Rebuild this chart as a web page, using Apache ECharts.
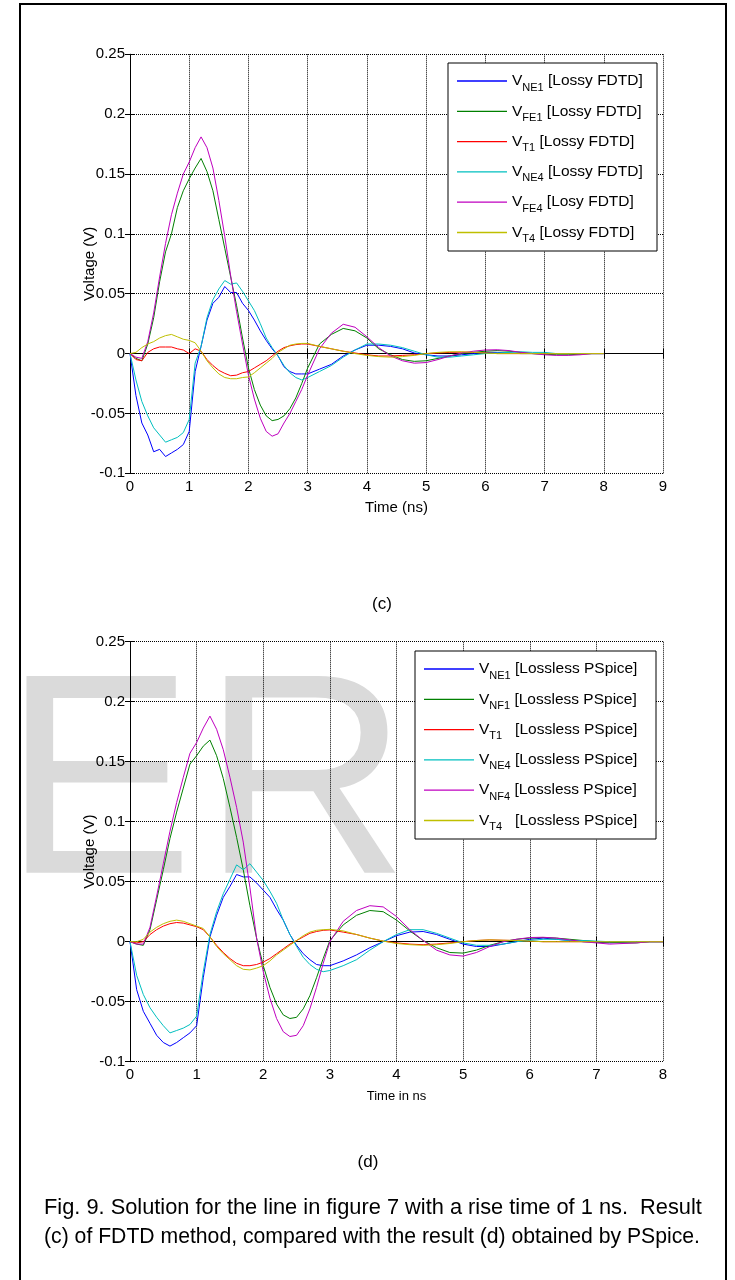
<!DOCTYPE html>
<html lang="en">
<head>
  <meta charset="UTF-8">
  <title>Fig. 9</title>
  <script src="https://cdn.jsdelivr.net/npm/echarts@6/dist/echarts.min.js"></script>
  <style>
    body{
      margin: 0;
      background: #fff;
    }
    #main{
      width: 735px;
      height: 1280px;
    }
  </style>
</head>
<body>
<div id="main"></div>
<script>
  // sample times (ns), shared by both plots
  var timeNs = [0, 0.1, 0.2, 0.3, 0.4, 0.5, 0.6, 0.7, 0.8, 0.9, 1.0, 1.1, 1.2, 1.3, 1.4, 1.5, 1.6, 1.7, 1.8, 1.9,
    2.0, 2.1, 2.2, 2.3, 2.4, 2.5, 2.6, 2.7, 2.8, 2.9, 3.0, 3.2, 3.4, 3.6, 3.8, 4.0, 4.2, 4.4, 4.6, 4.8,
    5.0, 5.2, 5.4, 5.6, 5.8, 6.0, 6.2, 6.4, 6.6, 6.8, 7.0, 7.2, 7.4, 7.6, 7.8, 8.0];

  // (c) Lossy FDTD
  var cNE1 = [0, -0.035, -0.058, -0.068, -0.082, -0.080, -0.086, -0.083, -0.080, -0.076, -0.065, -0.015, 0.006, 0.028, 0.042, 0.047, 0.056, 0.051, 0.051, 0.042,
    0.036, 0.028, 0.019, 0.011, 0.004, -0.002, -0.011, -0.015, -0.017, -0.017, -0.017, -0.013, -0.009, -0.002, 0.003, 0.007, 0.007, 0.006, 0.004, 0.0005,
    -0.001, -0.002, -0.002, -0.001, 0, 0.001, 0.001, 0.0005, 0, 0, 0, 0, 0, 0, 0, 0];
  var cFE1 = [0, -0.004, -0.006, 0.008, 0.030, 0.060, 0.085, 0.100, 0.122, 0.136, 0.146, 0.155, 0.163, 0.152, 0.136, 0.112, 0.088, 0.064, 0.040, 0.013,
    -0.012, -0.030, -0.043, -0.052, -0.056, -0.055, -0.052, -0.046, -0.037, -0.025, -0.012, 0.008, 0.016, 0.021, 0.019, 0.013, 0.004, -0.001, -0.005, -0.0065,
    -0.006, -0.004, -0.002, 0, 0.001, 0.002, 0.0025, 0.002, 0.001, 0, -0.0005, -0.001, -0.001, -0.0005, 0, 0];
  var cT1 = [0, -0.005, -0.006, 0.001, 0.004, 0.0055, 0.0055, 0.0055, 0.004, 0.003, 0.0, 0.004, 0.002, -0.005, -0.010, -0.014, -0.0165, -0.0185, -0.018, -0.016,
    -0.015, -0.012, -0.009, -0.006, -0.002, 0.002, 0.005, 0.0065, 0.0075, 0.008, 0.008, 0.006, 0.004, 0.002, 0.0005, -0.001, -0.002, -0.002, -0.0015, -0.001,
    0, 0.0005, 0.001, 0.0012, 0.001, 0.0005, 0, 0, 0, 0, 0, 0, 0, 0, 0, 0];
  var cNE4 = [0, -0.022, -0.040, -0.052, -0.062, -0.068, -0.074, -0.072, -0.070, -0.066, -0.055, -0.008, 0.006, 0.030, 0.045, 0.054, 0.061, 0.058, 0.059, 0.052,
    0.044, 0.036, 0.025, 0.013, 0.005, -0.002, -0.010, -0.016, -0.020, -0.022, -0.020, -0.015, -0.010, -0.003, 0.003, 0.008, 0.008, 0.007, 0.005, 0.002,
    -0.001, -0.003, -0.003, -0.002, -0.001, 0, 0.0005, 0.001, 0.0015, 0.001, 0.001, 0, 0, 0, 0, 0];
  var cFE4 = [0, -0.003, -0.004, 0.010, 0.034, 0.064, 0.092, 0.116, 0.134, 0.150, 0.160, 0.172, 0.181, 0.172, 0.155, 0.128, 0.098, 0.065, 0.035, 0.008,
    -0.018, -0.038, -0.054, -0.065, -0.069, -0.067, -0.058, -0.050, -0.040, -0.030, -0.018, 0.004, 0.017, 0.0245, 0.022, 0.014, 0.005, -0.002, -0.006, -0.008,
    -0.0075, -0.005, -0.002, 0.0005, 0.002, 0.003, 0.0032, 0.0025, 0.001, 0, -0.001, -0.0015, -0.0015, -0.001, 0, 0];
  var cT4 = [0, 0.001, 0.005, 0.008, 0.010, 0.013, 0.015, 0.016, 0.014, 0.012, 0.011, 0.009, 0.002, -0.006, -0.012, -0.017, -0.020, -0.021, -0.021, -0.020,
    -0.0195, -0.016, -0.012, -0.008, -0.004, 0.001, 0.004, 0.007, 0.008, 0.0085, 0.0085, 0.006, 0.004, 0.002, 0, -0.0015, -0.0025, -0.003, -0.0025, -0.0015,
    0, 0.001, 0.0015, 0.0015, 0.001, 0.0005, 0, 0, 0, 0, 0, 0, 0, 0, 0, 0];

  // (d) Lossless PSpice
  var dNE1 = [0, -0.040, -0.058, -0.068, -0.078, -0.084, -0.087, -0.084, -0.080, -0.076, -0.070, -0.030, 0.004, 0.022, 0.037, 0.046, 0.056, 0.054, 0.054, 0.049,
    0.043, 0.037, 0.027, 0.018, 0.006, -0.003, -0.010, -0.015, -0.019, -0.020, -0.020, -0.016, -0.011, -0.005, 0, 0.005, 0.008, 0.0085, 0.006, 0.002,
    -0.002, -0.004, -0.004, -0.002, 0, 0.002, 0.003, 0.002, 0.001, 0, -0.0005, -0.001, -0.0005, 0, 0, 0];
  var dNF1 = [0, -0.002, -0.003, 0.010, 0.035, 0.060, 0.086, 0.108, 0.128, 0.148, 0.155, 0.163, 0.168, 0.155, 0.136, 0.112, 0.087, 0.060, 0.030, 0.003,
    -0.020, -0.038, -0.052, -0.061, -0.064, -0.063, -0.056, -0.045, -0.030, -0.014, 0.001, 0.014, 0.022, 0.026, 0.025, 0.018, 0.009, 0.001, -0.005, -0.009,
    -0.0095, -0.007, -0.003, 0, 0.002, 0.003, 0.0035, 0.003, 0.002, 0.001, 0, -0.0005, -0.001, -0.001, 0, 0];
  var dT1 = [0, -0.001, 0.0, 0.006, 0.010, 0.013, 0.015, 0.016, 0.0155, 0.014, 0.0125, 0.010, 0.004, -0.003, -0.009, -0.014, -0.018, -0.020, -0.020, -0.019,
    -0.017, -0.014, -0.010, -0.006, -0.002, 0.001, 0.004, 0.007, 0.0085, 0.0095, 0.0098, 0.008, 0.006, 0.003, 0.0005, -0.001, -0.002, -0.0025, -0.002, -0.001,
    0, 0.001, 0.0015, 0.0012, 0.001, 0.0005, 0, 0, 0, 0, 0, 0, 0, 0, 0, 0];
  var dNE4 = [0, -0.028, -0.044, -0.055, -0.063, -0.070, -0.076, -0.074, -0.072, -0.069, -0.062, -0.025, 0.006, 0.025, 0.040, 0.052, 0.064, 0.060, 0.065, 0.058,
    0.051, 0.042, 0.032, 0.018, 0.006, -0.004, -0.013, -0.019, -0.023, -0.025, -0.024, -0.020, -0.015, -0.007, 0, 0.006, 0.010, 0.010, 0.007, 0.003,
    -0.001, -0.003, -0.003, -0.002, 0, 0.001, 0.002, 0.002, 0.001, 0.001, 0.0005, 0, 0, 0, 0, 0];
  var dNF4 = [0, -0.002, -0.002, 0.012, 0.038, 0.065, 0.092, 0.116, 0.137, 0.157, 0.166, 0.178, 0.188, 0.177, 0.160, 0.137, 0.112, 0.083, 0.045, 0.003,
    -0.025, -0.047, -0.064, -0.075, -0.079, -0.078, -0.070, -0.056, -0.038, -0.018, 0.0, 0.017, 0.026, 0.030, 0.029, 0.021, 0.010, 0.001, -0.007, -0.011,
    -0.012, -0.009, -0.004, 0, 0.002, 0.0035, 0.0037, 0.003, 0.0015, 0, -0.001, -0.002, -0.0015, -0.001, 0, 0];
  var dT4 = [0, 0.0, 0.002, 0.008, 0.012, 0.015, 0.017, 0.018, 0.017, 0.015, 0.013, 0.011, 0.004, -0.004, -0.010, -0.015, -0.020, -0.023, -0.0235, -0.022,
    -0.020, -0.016, -0.011, -0.007, -0.003, 0.001, 0.005, 0.008, 0.0095, 0.010, 0.0103, 0.009, 0.006, 0.003, 0.0005, -0.0015, -0.0025, -0.003, -0.0025, -0.0015,
    0, 0.001, 0.0015, 0.0012, 0.001, 0.0005, 0, 0, 0, 0, 0, 0, 0, 0, 0, 0];

  var colors = ['#0000ff', '#008000', '#ff0000', '#00bfbf', '#bf00bf', '#bfbf00'];
  var cSubs = ['NE1', 'FE1', 'T1', 'NE4', 'FE4', 'T4'];
  var cTags = [' [Lossy FDTD]', ' [Lossy FDTD]', ' [Lossy FDTD]', ' [Lossy FDTD]', ' [Losy FDTD]', ' [Lossy FDTD]'];
  var dSubs = ['NE1', 'NF1', 'T1', 'NE4', 'NF4', 'T4'];
  var dTags = [' [Lossless PSpice]', ' [Lossless PSpice]', '   [Lossless PSpice]', ' [Lossless PSpice]', ' [Lossless PSpice]', '   [Lossless PSpice]'];
  var cVals = [cNE1, cFE1, cT1, cNE4, cFE4, cT4];
  var dVals = [dNE1, dNF1, dT1, dNE4, dNF4, dT4];

  var FONT = 'Liberation Sans, Arial, sans-serif';

  var labels = {};   // series name -> rich legend text
  var series = [];
  function addSeries(key, sub, tag, vals, color, axis) {
    labels[key] = '{v|V}{s|' + sub + '}{t|' + tag + '}';
    series.push({
      name: key,
      type: 'line',
      xAxisIndex: axis,
      yAxisIndex: axis,
      data: timeNs.map(function (t, i) { return [t, vals[i]]; }),
      symbol: 'none',
      lineStyle: {color: color, width: 1},
      itemStyle: {color: color},
      z: 2
    });
  }
  for (var i = 0; i < 6; i++) {
    addSeries('c' + i, cSubs[i], cTags[i], cVals[i], colors[i], 0);
  }
  for (var i = 0; i < 6; i++) {
    addSeries('d' + i, dSubs[i], dTags[i], dVals[i], colors[i], 2);
  }

  var tick = {show: true, inside: true, length: 5, lineStyle: {color: '#000', width: 1}};
  var line = {show: true, lineStyle: {color: '#000', width: 1}};
  var grid = {show: true, lineStyle: {color: '#000', width: 1, type: [1, 1]}};
  var lbl = {color: '#000', fontSize: 15, fontFamily: FONT};

  function xAxis(g, max, name, pos) {
    var main = pos === 'bottom';
    return {
      type: 'value', gridIndex: g, position: pos, min: 0, max: max, interval: 1,
      axisLine: line, axisTick: tick, splitLine: main ? grid : {show: false},
      axisLabel: main ? Object.assign({margin: 6}, lbl) : {show: false},
      name: main ? name : '', nameLocation: 'middle', nameGap: g === 0 ? 27 : 28, nameMoveOverlap: false,
      nameTextStyle: {color: '#000', fontSize: g === 0 ? 15 : 13, fontFamily: FONT}
    };
  }
  function yAxis(g, pos) {
    var main = pos === 'left';
    return {
      type: 'value', gridIndex: g, position: pos, min: -0.1, max: 0.25, interval: 0.05,
      axisLine: line, axisTick: tick, splitLine: main ? grid : {show: false},
      axisLabel: main ? Object.assign({margin: 5, formatter: function (v) { return String(+v.toFixed(2)); }}, lbl) : {show: false},
      name: main ? 'Voltage (V)' : '', nameLocation: 'middle', nameGap: 33, nameRotate: 90, nameMoveOverlap: false,
      nameTextStyle: {color: '#000', fontSize: 15, fontFamily: FONT}
    };
  }

  function legend(prefix, left, top) {
    return {
      data: [0, 1, 2, 3, 4, 5].map(function (k) { return {name: prefix + k, icon: 'rect'}; }),
      orient: 'vertical', left: left, top: top, padding: [10, 0, 0, 9],
      itemWidth: 50, itemHeight: 1.3, itemGap: 10.3, itemTextGap: 5,
      borderWidth: 0, backgroundColor: 'transparent', selectedMode: false, z: 6,
      formatter: function (name) { return labels[name]; },
      textStyle: {
        color: '#000', fontFamily: FONT,
        rich: {
          v: {fontSize: 15.5, fontFamily: FONT, lineHeight: 24, verticalAlign: 'middle'},
          s: {fontSize: 11, fontFamily: FONT, lineHeight: 12, verticalAlign: 'bottom'},
          t: {fontSize: 15.5, fontFamily: FONT, lineHeight: 24, verticalAlign: 'middle'}
        }
      }
    };
  }

  function txt(x, y, s, size, align) {
    return {type: 'text', x: x, y: y, z: 5,
      style: {text: s, fill: '#000', font: size + 'px ' + FONT, textAlign: align || 'center', textVerticalAlign: 'middle'}};
  }

  var myChart = echarts.init(document.getElementById('main'));
  myChart.setOption({
    backgroundColor: '#fff',
    animation: false,
    grid: [
      {left: 130, top: 54.3, width: 533, height: 419, outerBoundsMode: 'none'},
      {left: 130, top: 641.7, width: 533, height: 420, outerBoundsMode: 'none'}
    ],
    xAxis: [xAxis(0, 9, 'Time (ns)', 'bottom'), xAxis(0, 9, '', 'top'), xAxis(1, 8, 'Time in ns', 'bottom'), xAxis(1, 8, '', 'top')],
    yAxis: [yAxis(0, 'left'), yAxis(0, 'right'), yAxis(1, 'left'), yAxis(1, 'right')],
    legend: [legend('c', 448, 63), legend('d', 415, 651)],
    graphic: [
      {type: 'rect', z: -2, shape: {x: 20, y: 4, width: 706, height: 1300}, style: {fill: 'none', stroke: '#000', lineWidth: 2}},
      {type: 'text', z: -1, x: 3, y: 794, style: {text: 'E', fill: '#dadada', font: '286px ' + FONT, textVerticalAlign: 'middle'}},
      {type: 'text', z: -1, x: 202, y: 794, style: {text: 'R', fill: '#dadada', font: '286px ' + FONT, textVerticalAlign: 'middle'}},
      {type: 'rect', z: 3, shape: {x: 448, y: 63, width: 209, height: 188}, style: {fill: '#fff', stroke: '#000', lineWidth: 1}},
      {type: 'rect', z: 3, shape: {x: 415, y: 651, width: 241, height: 188}, style: {fill: '#fff', stroke: '#000', lineWidth: 1}},
      txt(382, 604, '(c)', 17),
      txt(368, 1162, '(d)', 17),
      txt(44, 1208, 'Fig. 9. Solution for the line in figure 7 with a rise time of 1 ns.  Result', 21.8, 'left'),
      txt(44, 1237, '(c) of FDTD method, compared with the result (d) obtained by PSpice.', 21.2, 'left')
    ],
    series: series
  });
</script>
</body>
</html>
